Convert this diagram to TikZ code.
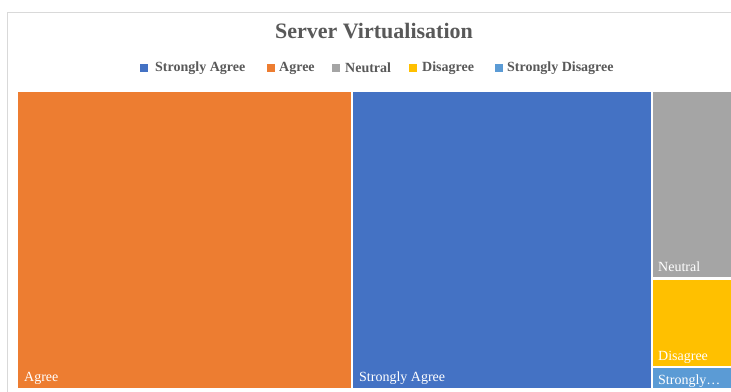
\documentclass[tikz,border=0pt]{standalone}
\usepackage{fontspec}
\setmainfont{Liberation Serif}
\definecolor{cOrange}{HTML}{ED7D31}
\definecolor{cBlue}{HTML}{4472C4}
\definecolor{cGray}{HTML}{A5A5A5}
\definecolor{cYellow}{HTML}{FFC000}
\definecolor{cLBlue}{HTML}{5B9BD5}
\definecolor{cText}{HTML}{595959}
\definecolor{cFrame}{HTML}{D9D9D9}
\begin{document}
\begin{tikzpicture}[x=1pt,y=-1pt,
  lab/.style={anchor=base west, text=white, inner sep=0pt, font=\fontsize{14}{14}\selectfont},
  legsq/.style={fill, minimum size=8pt, inner sep=0pt},
  legtx/.style={anchor=west, text=cText, inner sep=0pt, font=\fontsize{14}{14}\selectfont\bfseries}]
\useasboundingbox[fill=white] (0,0) rectangle (731,391);
% frame
\draw[cFrame, line width=1pt] (7.5,400) -- (7.5,12.5) -- (740,12.5);
% title
\node[text=cText, font=\fontsize{22}{22}\selectfont\bfseries] (title) at (374,31) {Server Virtualisation};
% legend
\node[legsq, cBlue] (l1) at (144,68) {};
\node[legtx] (t1) at (155,68) {Strongly Agree};
\node[legsq, cOrange] (l2) at (271,68) {};
\node[legtx] (t2) at (279,68) {Agree};
\node[legsq, cGray] (l3) at (336,68) {};
\node[legtx] (t3) at (345,68) {Neutral};
\node[legsq, cYellow] (l4) at (413,68) {};
\node[legtx] (t4) at (422,68) {Disagree};
\node[legsq, cLBlue] (l5) at (499,68) {};
\node[legtx] (t5) at (507,68) {Strongly Disagree};
% cells
\fill[cOrange] (18,92) rectangle (351,388);
\fill[cBlue] (353,92) rectangle (651,388);
\fill[cGray] (653,92) rectangle (731,277);
\fill[cYellow] (653,280) rectangle (731,366);
\fill[cLBlue] (653,368) rectangle (731,388);
\coordinate (agree) at (18,388);
\coordinate (sagree) at (353,388);
\coordinate (neutral) at (653,277);
\coordinate (disagree) at (653,366);
\coordinate (sdis) at (653,388);
\node[lab] (la) at ([xshift=6pt,yshift=7pt]agree) {Agree};
\node[lab] (lsa) at ([xshift=6pt,yshift=7pt]sagree) {Strongly Agree};
\node[lab] (ln) at ([xshift=5pt,yshift=6pt]neutral) {Neutral};
\node[lab] (ld) at ([xshift=5pt,yshift=6pt]disagree) {Disagree};
\node[lab] (lsd) at ([xshift=5pt,yshift=4pt]sdis) {Strongly…};
\end{tikzpicture}
\end{document}
